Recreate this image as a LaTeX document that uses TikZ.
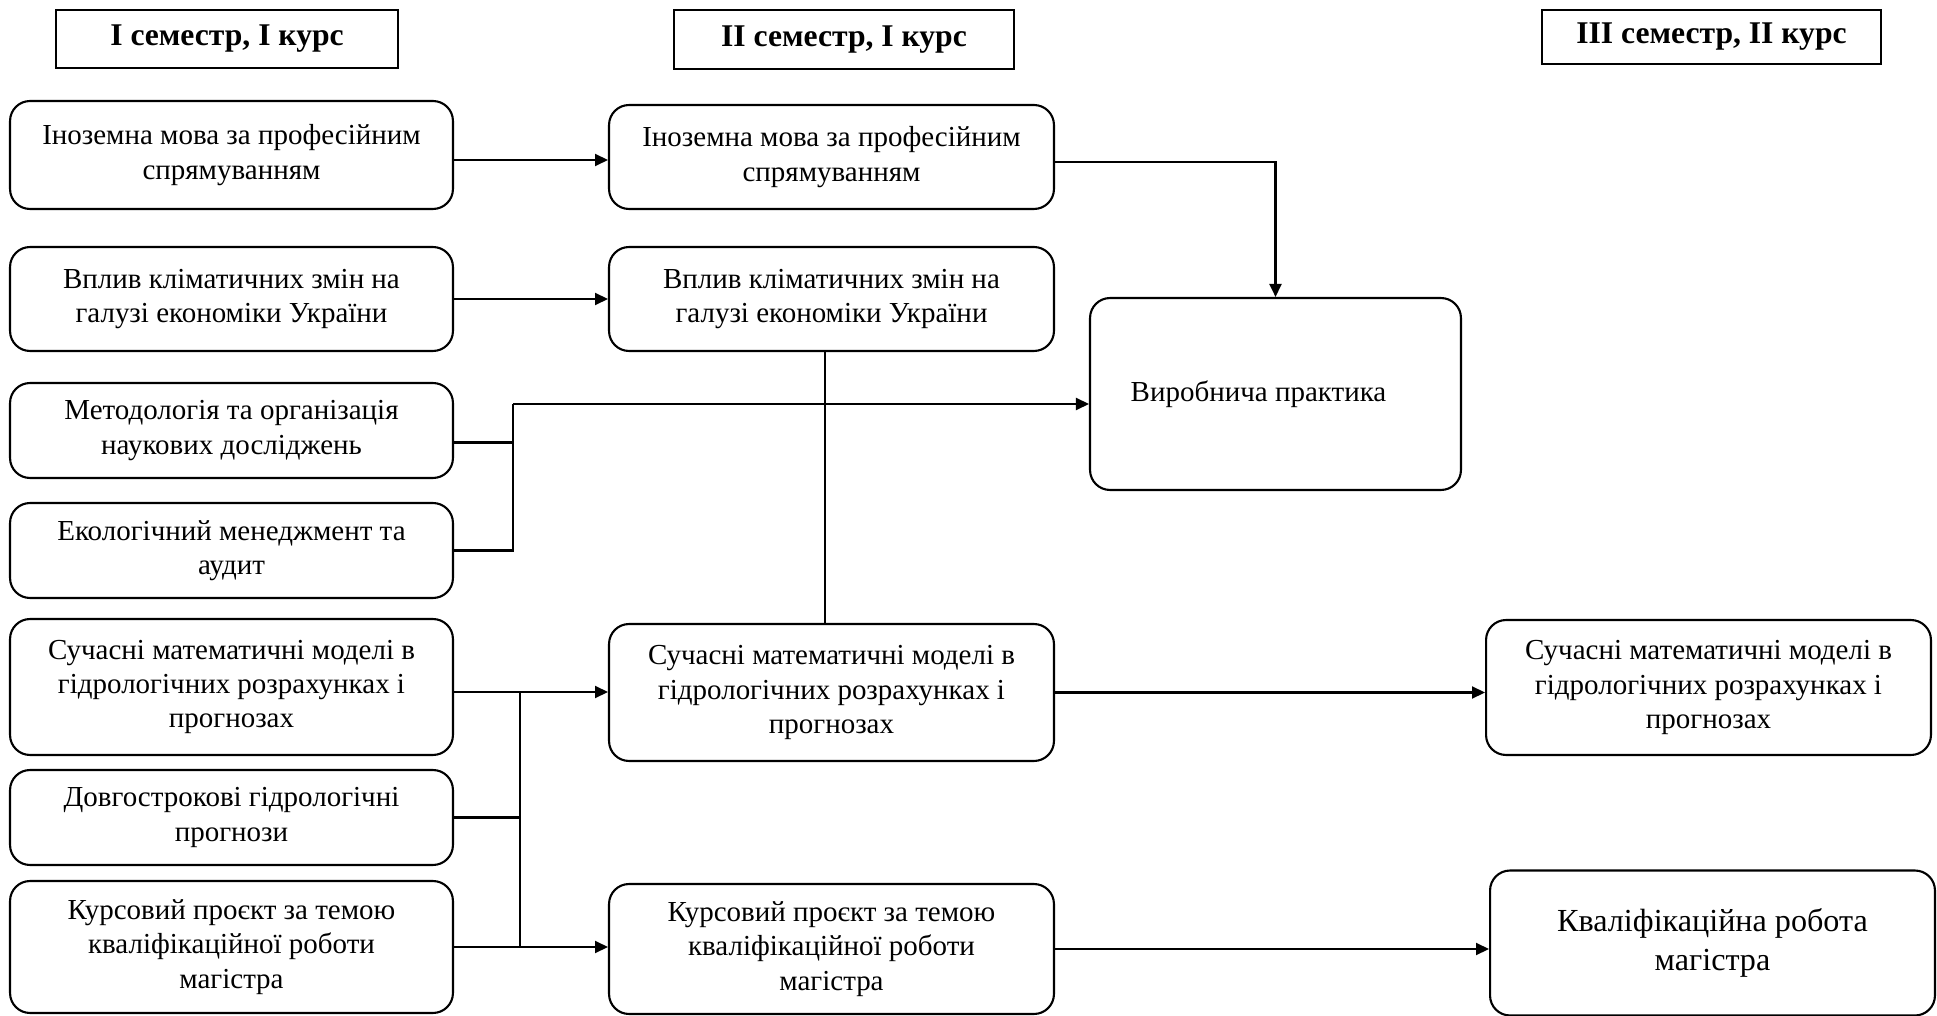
\documentclass[tikz,border=0pt]{standalone}
\usepackage{fontspec}
\setmainfont{Liberation Serif}
\usetikzlibrary{arrows.meta}

\tikzset{
  subj/.style={draw, line width=1.2pt, rounded corners=0.4cm, align=center,
    inner sep=0pt, font=\fontsize{16.5}{19.5}\selectfont},
  sem/.style={draw, line width=1.2pt, align=center, inner sep=0pt,
    font=\fontsize{18}{21}\selectfont\bfseries},
  link/.style={line width=1.2pt, -{Triangle[length=0.26cm,width=0.24cm]}},
  bus/.style={line width=1.2pt},
  tie/.style={line width=0.6pt},
}

\begin{document}
\begin{tikzpicture}[x=0.02cm, y=-0.02cm]
  \useasboundingbox (0,0) rectangle (1937,1016);

  % Semesters
  \node[sem, minimum width=6.84cm, minimum height=1.16cm] (sem1) at (227,39) {І семестр, І курс};
  \node[sem, minimum width=6.8cm, minimum height=1.18cm] (sem2) at (844,39.5) {ІІ семестр, І курс};
  \node[sem, minimum width=6.78cm, minimum height=1.08cm] (sem3) at (1711.5,37) {ІІІ семестр, ІІ курс};

  % First semester
  \node[subj, minimum width=8.86cm, minimum height=2.16cm] (lang1) at (231.5,155) {Іноземна мова за професійним\\спрямуванням};
  \node[subj, minimum width=8.86cm, minimum height=2.08cm] (clim1) at (231.5,299) {Вплив кліматичних змін на\\галузі економіки України};
  \node[subj, minimum width=8.86cm, minimum height=1.9cm] (meth1) at (231.5,430.5) {Методологія та організація\\наукових досліджень};
  \node[subj, minimum width=8.86cm, minimum height=1.9cm] (eco1) at (231.5,550.5) {Екологічний менеджмент та\\аудит};
  \node[subj, minimum width=8.86cm, minimum height=2.72cm] (model1) at (231.5,687) {Сучасні математичні моделі в\\гідрологічних розрахунках і\\прогнозах};
  \node[subj, minimum width=8.86cm, minimum height=1.9cm] (fcst1) at (231.5,817.5) {Довгострокові гідрологічні\\прогнози};
  \node[subj, minimum width=8.86cm, minimum height=2.64cm] (proj1) at (231.5,947) {Курсовий проєкт за темою\\кваліфікаційної роботи\\магістра};

  % Second semester
  \node[subj, minimum width=8.9cm, minimum height=2.08cm] (lang2) at (831.5,157) {Іноземна мова за професійним\\спрямуванням};
  \node[subj, minimum width=8.9cm, minimum height=2.08cm] (clim2) at (831.5,299) {Вплив кліматичних змін на\\галузі економіки України};
  \node[subj, minimum width=8.9cm, minimum height=2.74cm] (model2) at (831.5,692.5) {Сучасні математичні моделі в\\гідрологічних розрахунках і\\прогнозах};
  \node[subj, minimum width=8.9cm, minimum height=2.6cm] (proj2) at (831.5,949) {Курсовий проєкт за темою\\кваліфікаційної роботи\\магістра};
  \node[subj, minimum width=7.42cm, minimum height=3.84cm] (prac) at (1275.5,394) {Виробнича практика\hspace*{0.68cm}};

  % Third semester
  \node[subj, minimum width=8.9cm, minimum height=2.7cm] (model3) at (1708.5,687.5) {Сучасні математичні моделі в\\гідрологічних розрахунках і\\прогнозах};
  \node[subj, minimum width=8.9cm, minimum height=2.9cm, font=\fontsize{18.3}{22}\selectfont] (thesis) at (1712.5,943) {Кваліфікаційна робота\\магістра};

  % Links
  \draw[link] ([yshift=-0.1cm]lang1.east) -- ([yshift=-0.1cm]lang1.east -| lang2.west);
  \draw[link] ([yshift=-0.1cm]lang2.east) -| (prac.north);
  \draw[link] (clim1.east) -- (clim2.west);
  \coordinate (j1) at (513,404);
  \draw[bus] ([yshift=-0.24cm]meth1.east) -| (j1);
  \draw[bus] (eco1.east) -| (j1);
  \draw[link] (j1) -- (j1 -| prac.west);
  \draw[tie] ([xshift=-0.13cm]clim2.south) -- ([xshift=-0.13cm]model2.north);
  \coordinate (j2) at (520,692);
  \draw[link] (model1.east |- j2) -- (j2 -| model2.west);
  \draw[bus] (fcst1.east) -| (j2);
  \draw[bus] (j2) |- (proj1.east);
  \draw[link] (proj1.east) -- (proj1.east -| proj2.west);
  \draw[link] (model2.east) -- (model2.east -| model3.west);
  \draw[link] (proj2.east) -- (proj2.east -| thesis.west);
\end{tikzpicture}
\end{document}
